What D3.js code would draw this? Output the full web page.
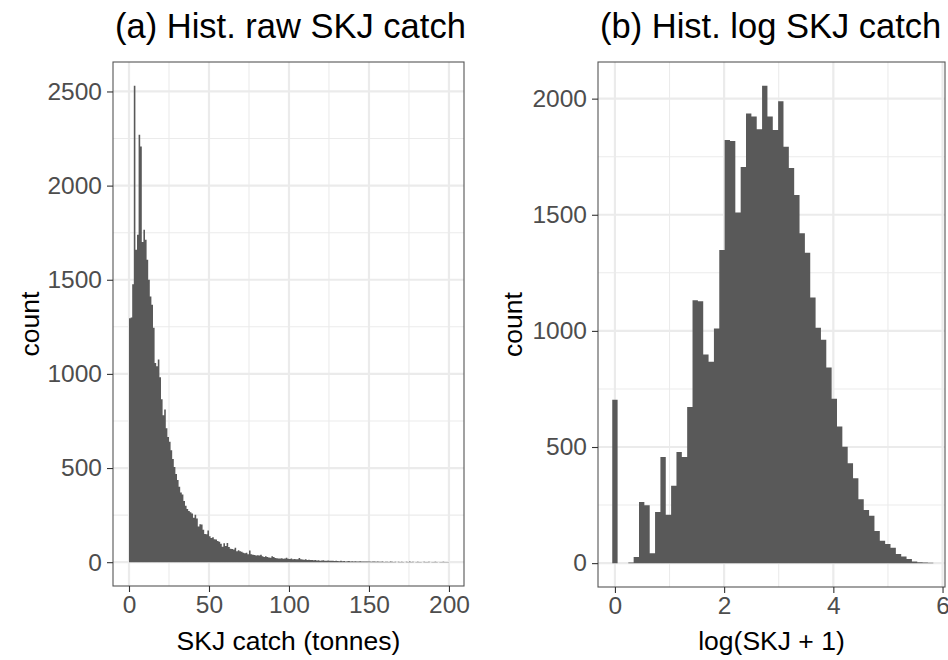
<!DOCTYPE html>
<html>
<head>
<meta charset="utf-8">
<script src="https://cdn.jsdelivr.net/npm/d3@7"></script>
<style>
  body { margin: 0; background: #fff; }
  svg { display: block; }
  text { font-family: "Liberation Sans", Arial, Helvetica, sans-serif; }
</style>
</head>
<body>
<svg id="chart" width="948" height="660"></svg>
<script>
// Counts per 1-tonne bin of raw skipjack catch, bins [0,1), [1,2), ... [199,200)
const rawCounts = [
  1296, 1300, 1476, 2530, 1659, 1739, 2270, 2208, 1700, 1765,
  1712, 1606, 1500, 1411, 1367, 1245, 1058, 1040, 1077, 982,
  866, 780, 811, 711, 665, 640, 594, 548, 506, 468,
  436, 400, 370, 360, 325, 300, 282, 272, 265, 258,
  236, 252, 232, 190, 202, 200, 172, 150, 148, 168,
  138, 128, 132, 122, 120, 112, 108, 98, 82, 100,
  86, 102, 80, 72, 70, 67, 76, 58, 64, 58,
  55, 50, 47, 50, 42, 62, 42, 40, 38, 35,
  37, 35, 39, 31, 28, 32, 28, 25, 23, 31,
  27, 22, 21, 20, 19, 21, 18, 19, 24, 18,
  17, 19, 16, 17, 15, 16, 22, 15, 14, 13,
  15, 12, 13, 11, 12, 10, 11, 9, 10, 8,
  9, 10, 8, 7, 9, 8, 7, 8, 6, 7,
  6, 5, 7, 5, 6, 4, 5, 6, 4, 5,
  4, 5, 3, 4, 5, 3, 4, 3, 4, 3,
  4, 2, 3, 4, 2, 3, 2, 2, 3, 1,
  2, 2, 1, 3, 2, 1, 2, 0, 2, 1,
  2, 1, 0, 2, 1, 3, 1, 2, 0, 1,
  2, 1, 1, 0, 2, 1, 1, 2, 0, 1,
  1, 2, 1, 0, 1, 1, 2, 1, 1, 1
];
const rawBinWidth = 1;
const rawXTicks = [0, 50, 100, 150, 200];
const rawXMinor = [25, 75, 125, 175];
const rawYTicks = [0, 500, 1000, 1500, 2000, 2500];
const rawYMinor = [250, 750, 1250, 1750, 2250];

// Counts per bin of log(SKJ + 1), bins centred on multiples of the bin width
const logCounts = [
  704, 0, 0, 3, 26, 263, 249, 43, 220, 457,
  208, 333, 478, 457, 672, 1132, 1128, 898, 867, 1010,
  1348, 1822, 1818, 1510, 1706, 1936, 1923, 1868, 2055, 1923,
  1865, 1989, 1793, 1701, 1585, 1420, 1336, 1144, 1014, 962,
  842, 708, 588, 501, 430, 365, 275, 229, 204, 138,
  96, 82, 66, 39, 29, 18, 7, 4, 3, 2
];
const logBinWidth = 0.098;
const logXTicks = [0, 2, 4, 6];
const logXMinor = [1, 3, 5];
const logYTicks = [0, 500, 1000, 1500, 2000];
const logYMinor = [250, 750, 1250, 1750];

const svg = d3.select("#chart");
svg.append("rect").attr("width", 948).attr("height", 660).attr("fill", "#fff");

const barFill = "#595959";
const gridColor = "#EBEBEB";
const borderColor = "#555555";
const tickColor = "#333333";
const tickTextColor = "#4D4D4D";

function drawPanel(cfg) {
  const g = svg.append("g");
  const x = d3.scaleLinear().domain(cfg.xDomain).range([cfg.left, cfg.right]);
  const maxCount = d3.max(cfg.counts);
  const y = d3.scaleLinear()
    .domain([-0.05 * maxCount, 1.05 * maxCount])
    .range([cfg.bottom, cfg.top]);

  // panel background
  g.append("rect")
    .attr("x", cfg.left).attr("y", cfg.top)
    .attr("width", cfg.right - cfg.left).attr("height", cfg.bottom - cfg.top)
    .attr("fill", "#fff");

  // minor grid
  g.selectAll(null).data(cfg.xMinor).join("line")
    .attr("x1", d => x(d)).attr("x2", d => x(d))
    .attr("y1", cfg.top).attr("y2", cfg.bottom)
    .attr("stroke", gridColor).attr("stroke-width", 1.1);
  g.selectAll(null).data(cfg.yMinor).join("line")
    .attr("y1", d => y(d)).attr("y2", d => y(d))
    .attr("x1", cfg.left).attr("x2", cfg.right)
    .attr("stroke", gridColor).attr("stroke-width", 1.1);

  // major grid
  g.selectAll(null).data(cfg.xTicks).join("line")
    .attr("x1", d => x(d)).attr("x2", d => x(d))
    .attr("y1", cfg.top).attr("y2", cfg.bottom)
    .attr("stroke", gridColor).attr("stroke-width", 2.2);
  g.selectAll(null).data(cfg.yTicks).join("line")
    .attr("y1", d => y(d)).attr("y2", d => y(d))
    .attr("x1", cfg.left).attr("x2", cfg.right)
    .attr("stroke", gridColor).attr("stroke-width", 2.2);

  // histogram bars as one path so adjacent bins don't leave seams
  const p = d3.path();
  cfg.counts.forEach((c, i) => {
    if (c <= 0) return;
    const x0 = x(cfg.binStart(i)), x1 = x(cfg.binStart(i) + cfg.binWidth);
    const y0 = y(0), y1 = y(c);
    p.moveTo(x0, y0); p.lineTo(x1, y0); p.lineTo(x1, y1); p.lineTo(x0, y1); p.closePath();
  });
  g.append("path").attr("d", p.toString()).attr("fill", barFill);

  // panel border
  g.append("rect")
    .attr("x", cfg.left).attr("y", cfg.top)
    .attr("width", cfg.right - cfg.left).attr("height", cfg.bottom - cfg.top)
    .attr("fill", "none").attr("stroke", borderColor).attr("stroke-width", 1.1);

  // x axis
  const xAxis = g.append("g").attr("transform", `translate(0,${cfg.bottom})`)
    .call(d3.axisBottom(x).tickValues(cfg.xTicks).tickSize(6).tickPadding(4).tickFormat(d3.format("d")));
  xAxis.select(".domain").remove();
  xAxis.selectAll(".tick line").attr("stroke", tickColor).attr("stroke-width", 1.1);
  xAxis.selectAll(".tick text").attr("fill", tickTextColor)
    .style("font-size", "24.5px").style("font-family", '"Liberation Sans", Arial, sans-serif');

  // y axis
  const yAxis = g.append("g").attr("transform", `translate(${cfg.left},0)`)
    .call(d3.axisLeft(y).tickValues(cfg.yTicks).tickSize(6).tickPadding(5).tickFormat(d3.format("d")));
  yAxis.select(".domain").remove();
  yAxis.selectAll(".tick line").attr("stroke", tickColor).attr("stroke-width", 1.1);
  yAxis.selectAll(".tick text").attr("fill", tickTextColor)
    .style("font-size", "24.5px").style("font-family", '"Liberation Sans", Arial, sans-serif');

  // titles
  svg.append("text")
    .attr("x", cfg.left + 2).attr("y", 38)
    .attr("fill", "#000").style("font-size", "34.5px")
    .text(cfg.title);
  svg.append("text")
    .attr("x", (cfg.left + cfg.right) / 2).attr("y", 650)
    .attr("text-anchor", "middle")
    .attr("fill", "#000").style("font-size", "26.5px")
    .text(cfg.xLabel);
  svg.append("text")
    .attr("transform", `translate(${cfg.yLabelX},${(cfg.top + cfg.bottom) / 2}) rotate(-90)`)
    .attr("text-anchor", "middle")
    .attr("fill", "#000").style("font-size", "26.5px")
    .text("count");
}

drawPanel({
  left: 113, right: 464, top: 62, bottom: 586,
  xDomain: [-10, 209.4],
  counts: rawCounts,
  binWidth: rawBinWidth,
  binStart: i => i * rawBinWidth,
  xTicks: rawXTicks, xMinor: rawXMinor,
  yTicks: rawYTicks, yMinor: rawYMinor,
  title: "(a) Hist. raw SKJ catch",
  xLabel: "SKJ catch (tonnes)",
  yLabelX: 39
});

drawPanel({
  left: 598, right: 945, top: 62, bottom: 587,
  xDomain: [-0.31, 6.045],
  counts: logCounts,
  binWidth: logBinWidth,
  binStart: i => (i - 0.5) * logBinWidth,
  xTicks: logXTicks, xMinor: logXMinor,
  yTicks: logYTicks, yMinor: logYMinor,
  title: "(b) Hist. log SKJ catch",
  xLabel: "log(SKJ + 1)",
  yLabelX: 522
});
</script>
</body>
</html>
